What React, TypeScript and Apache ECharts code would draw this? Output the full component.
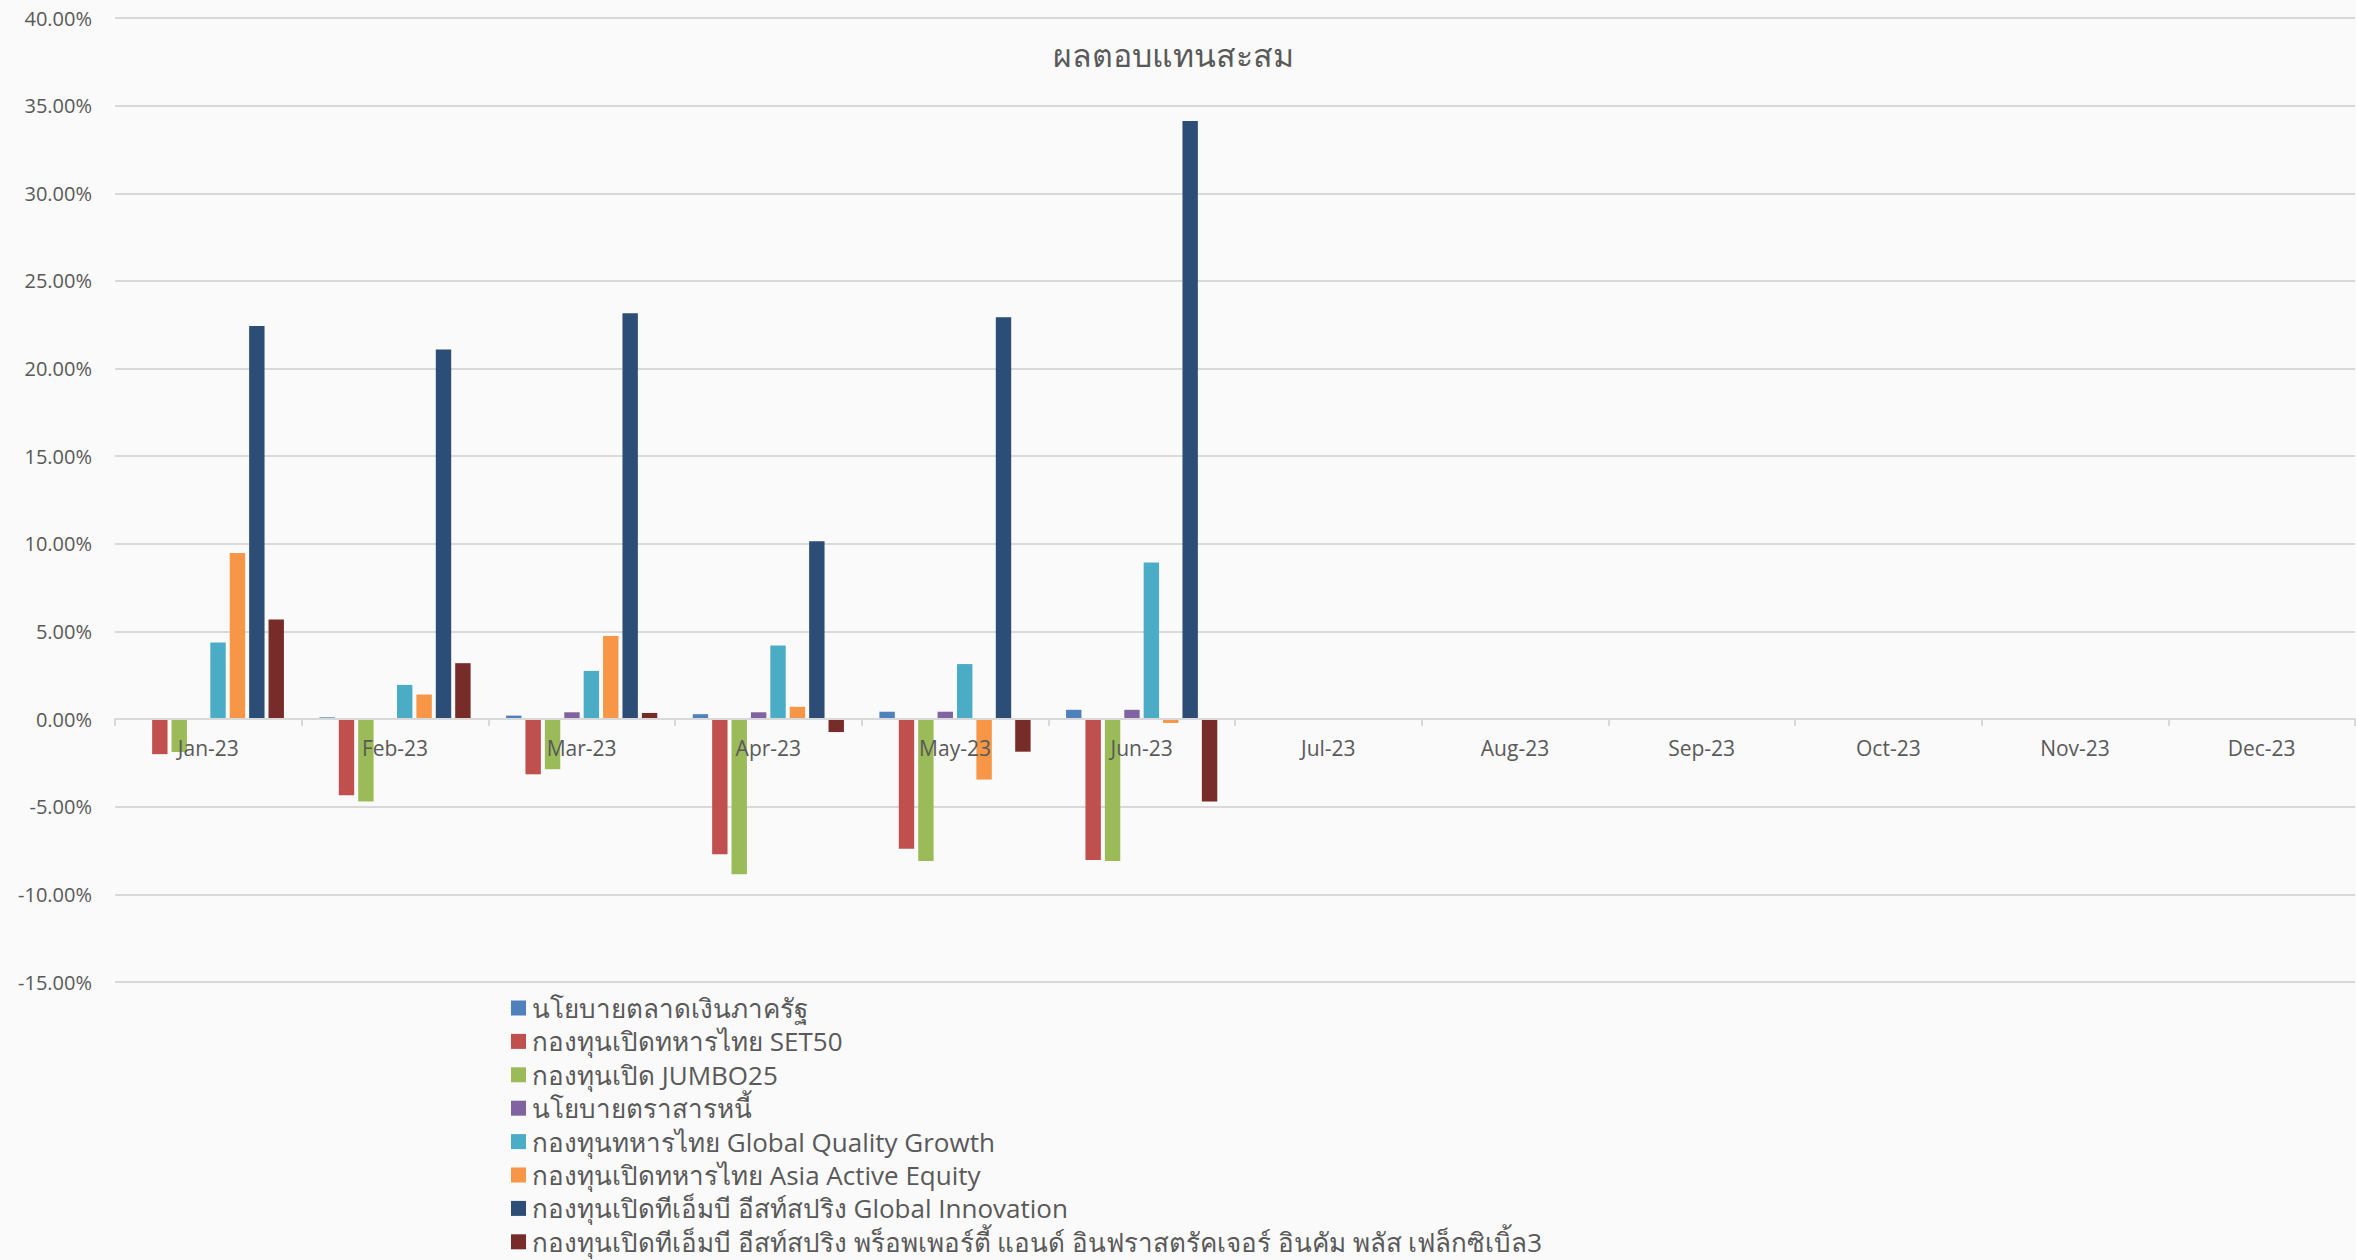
import React, { useEffect, useRef } from "react";
import * as echarts from "echarts";

const months = ["Jan-23", "Feb-23", "Mar-23", "Apr-23", "May-23", "Jun-23", "Jul-23", "Aug-23", "Sep-23", "Oct-23", "Nov-23", "Dec-23"];

const seriesNames = [
  "นโยบายตลาดเงินภาครัฐ",
  "กองทุนเปิดทหารไทย SET50",
  "กองทุนเปิด JUMBO25",
  "นโยบายตราสารหนี้",
  "กองทุนทหารไทย Global Quality Growth",
  "กองทุนเปิดทหารไทย Asia Active Equity",
  "กองทุนเปิดทีเอ็มบี อีสท์สปริง Global Innovation",
  "กองทุนเปิดทีเอ็มบี อีสท์สปริง พร็อพเพอร์ตี้ แอนด์ อินฟราสตรัคเจอร์ อินคัม พลัส เฟล็กซิเบิ้ล3",
];

const seriesColors = ["#4F81BD", "#C0504D", "#9BBB59", "#8064A2", "#4BACC6", "#F79646", "#2C4D75", "#772C2A"];

const moneyMarket = [0.03, 0.1, 0.2, 0.28, 0.42, 0.53, null, null, null, null, null, null];
const set50 = [-2.0, -4.35, -3.15, -7.71, -7.4, -8.04, null, null, null, null, null, null];
const jumbo25 = [-1.88, -4.7, -2.86, -8.85, -8.1, -8.1, null, null, null, null, null, null];
const fixedIncome = [0, 0, 0.39, 0.39, 0.42, 0.53, null, null, null, null, null, null];
const globalQuality = [4.37, 1.95, 2.75, 4.2, 3.14, 8.93, null, null, null, null, null, null];
const asiaActive = [9.48, 1.4, 4.74, 0.7, -3.45, -0.22, null, null, null, null, null, null];
const globalInnovation = [22.43, 21.08, 23.15, 10.15, 22.93, 34.13, null, null, null, null, null, null];
const propertyInfra = [5.68, 3.19, 0.35, -0.74, -1.86, -4.7, null, null, null, null, null, null];

const seriesData = [moneyMarket, set50, jumbo25, fixedIncome, globalQuality, asiaActive, globalInnovation, propertyInfra];

const yTicks = { min: -15, max: 40, interval: 5 };

export default function App() {
  const ref = useRef<HTMLDivElement>(null);

  useEffect(() => {
    if (!ref.current) return;
    const chart = echarts.init(ref.current, null, { renderer: "svg" });
    const font = "'Open Sans', 'Noto Sans', sans-serif";
    const gridTop = 18;
    const gridBottom = 278;
    const plotH = 1260 - gridTop - gridBottom;
    // distance from the bottom of the plot up to the zero line
    const zeroOffset = (plotH * (0 - yTicks.min)) / (yTicks.max - yTicks.min);
    chart.setOption({
      animation: false,
      backgroundColor: "#FAFAFA",
      title: {
        text: "ผลตอบแทนสะสม",
        left: 1168,
        textAlign: "center",
        top: 33,
        textStyle: { fontSize: 32, fontWeight: "normal", color: "#595959", fontFamily: font },
      },
      legend: {
        orient: "vertical",
        left: 506,
        top: 990,
        itemWidth: 15,
        itemHeight: 15,
        itemGap: 7.4,
        icon: "rect",
        data: seriesNames,
        textStyle: { fontSize: 26, color: "#595959", fontFamily: font, lineHeight: 26, padding: [0, 0, 0, 1] },
      },
      grid: { left: 115, right: 1, top: gridTop, bottom: gridBottom, containLabel: false },
      xAxis: {
        type: "category",
        data: months,
        offset: -zeroOffset,
        z: 10,
        axisLine: { onZero: false, lineStyle: { color: "#D9D9D9", width: 2 } },
        axisTick: { show: true, length: 7, lineStyle: { color: "#D9D9D9", width: 2 } },
        axisLabel: { color: "#595959", fontSize: 21, margin: 18, fontFamily: font },
      },
      yAxis: {
        type: "value",
        min: yTicks.min,
        max: yTicks.max,
        interval: yTicks.interval,
        axisLine: { show: false },
        axisTick: { show: false },
        splitLine: { lineStyle: { color: "#D9D9D9", width: 2 } },
        axisLabel: {
          color: "#595959",
          fontSize: 20,
          margin: 23,
          fontFamily: font,
          formatter: (v: number) => v.toFixed(2) + "%",
        },
      },
      series: seriesNames.map((name, i) => ({
        name,
        type: "bar",
        z: 2,
        data: seriesData[i],
        barGap: "26%",
        barCategoryGap: "19%",
        itemStyle: { color: seriesColors[i] },
      })),
    });
    return () => chart.dispose();
  }, []);

  return <div ref={ref} style={{ position: "fixed", left: 0, top: 0, width: 2356, height: 1260 }} />;
}
